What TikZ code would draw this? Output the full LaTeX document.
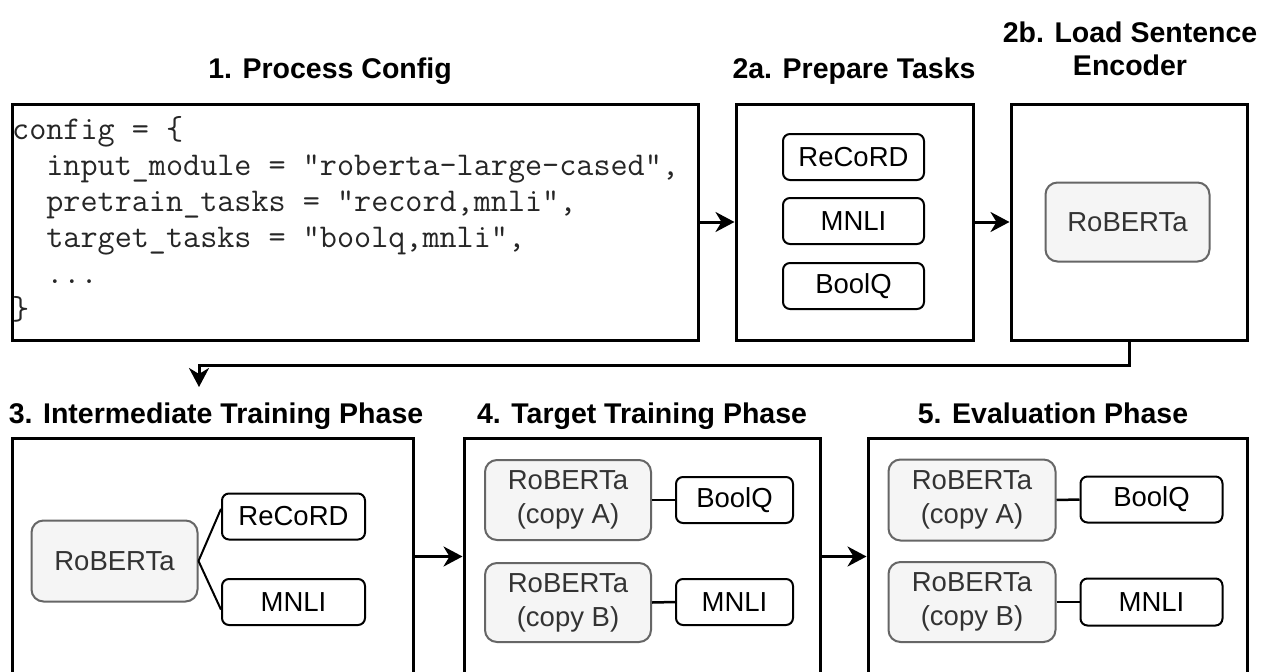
\documentclass[tikz,border=0pt]{standalone}
\usepackage{fontspec}
\setmainfont{Liberation Sans}
\usetikzlibrary{arrows.meta}
\definecolor{rgray}{HTML}{666666}
\definecolor{rfill}{HTML}{F5F5F5}
\definecolor{rtext}{HTML}{333333}
\newcommand\mylbl{\fontsize{27.5}{34}\selectfont}
\newcommand\myttl{\fontsize{28.5}{33}\selectfont\bfseries}
\tikzset{
 outerbox/.style={draw, line width=3pt, inner sep=0pt, anchor=north west},
 taskbox/.style={draw, line width=2pt, rounded corners=7pt, fill=white, inner sep=0pt, font=\mylbl},
 robbox/.style={draw=rgray, fill=rfill, text=rtext, line width=2pt, rounded corners=12pt, inner sep=0pt, align=center, font=\mylbl},
 titletext/.style={font=\myttl, align=center, inner sep=0pt, anchor=base},
 flow/.style={line width=3pt, -{Stealth[length=19pt,width=20pt,inset=6pt]}},
 link/.style={line width=2.5pt}
}
\begin{document}
\begin{tikzpicture}[x=1pt,y=-1pt]
\useasboundingbox (0,0) rectangle (1262,672);
\clip (0,0) rectangle (1262,672);
\fill[white] (0,0) rectangle (1262,672);

% titles
\node[titletext] (t1) at (330,78) {1. Process Config};
\node[titletext] (t2a) at (854,78) {2a. Prepare Tasks};
\node[titletext] (t2b) at (1130,75) {2b. Load Sentence\\Encoder};
\node[titletext] (t3) at (216,423) {3. Intermediate Training Phase};
\node[titletext] (t4) at (642,423) {4. Target Training Phase};
\node[titletext] (t5) at (1053,423) {5. Evaluation Phase};

% outer boxes
\node[outerbox, minimum width=686pt, minimum height=236pt] (cfg) at (10.5,102.5) {};
\node[outerbox, minimum width=237pt, minimum height=236pt] (tasks) at (734.5,102.5) {};
\node[outerbox, minimum width=236pt, minimum height=236pt] (enc) at (1009.5,102.5) {};
\node[outerbox, minimum width=401pt, minimum height=237pt] (p3) at (10.5,436.5) {};
\node[outerbox, minimum width=356pt, minimum height=237pt] (p4) at (462.5,436.5) {};
\node[outerbox, minimum width=379pt, minimum height=237pt] (p5) at (866.5,436.5) {};

% config text
\node[anchor=base west, inner sep=0pt, align=left, text=black!85, font={\ttfamily\fontsize{33.2}{36}\selectfont}] (code) at (12,319)
{config = \{\\
\hphantom{xx}input\_module = "roberta-large-cased",\\
\hphantom{xx}pretrain\_tasks = "record,mnli",\\
\hphantom{xx}target\_tasks = "boolq,mnli",\\
\hphantom{xx}...\\
\}};

% 2a tasks
\node[taskbox, minimum width=141pt, minimum height=46pt] (a1) at (853.5,157) {ReCoRD};
\node[taskbox, minimum width=141pt, minimum height=46pt] (a2) at (853.5,221) {MNLI};
\node[taskbox, minimum width=141pt, minimum height=46pt] (a3) at (853.5,286) {BoolQ};

% 2b encoder
\node[robbox, minimum width=164pt, minimum height=79pt] (r0) at (1127.5,222) {RoBERTa};

% 3
\node[robbox, minimum width=166pt, minimum height=81pt] (r3) at (114.5,561) {RoBERTa};
\node[taskbox, minimum width=143pt, minimum height=46pt] (b1) at (293.5,516.5) {ReCoRD};
\node[taskbox, minimum width=143pt, minimum height=46pt] (b2) at (293.5,602) {MNLI};
\draw[line width=2pt] (r3.east) -- (b1.174);
\draw[line width=2pt] (r3.east) -- (b2.186);

% 4
\node[robbox, minimum width=166pt, minimum height=80pt] (r4a) at (568,500) {RoBERTa\\(copy A)};
\node[robbox, minimum width=166pt, minimum height=79pt] (r4b) at (568,602.5) {RoBERTa\\(copy B)};
\node[taskbox, minimum width=117pt, minimum height=46pt] (c1) at (734.5,500) {BoolQ};
\node[taskbox, minimum width=117pt, minimum height=46pt] (c2) at (734.5,602) {MNLI};
\draw[link] (r4a.east) -- (c1.west);
\draw[link] (r4b.east) -- (c2.west);

% 5
\node[robbox, minimum width=167pt, minimum height=81pt] (r5a) at (972,500) {RoBERTa\\(copy A)};
\node[robbox, minimum width=167pt, minimum height=80pt] (r5b) at (972,602) {RoBERTa\\(copy B)};
\node[taskbox, minimum width=142pt, minimum height=46pt] (d1) at (1151.5,499.5) {BoolQ};
\node[taskbox, minimum width=142pt, minimum height=47pt] (d2) at (1151.5,602) {MNLI};
\draw[link] (r5a.east) -- (d1.west);
\draw[link] (r5b.east) -- (d2.west);

% flow arrows
\coordinate (c3) at (199,387);
\draw[flow] (cfg.east) -- (tasks.west);
\draw[flow] (tasks.east) -- (enc.west);
\draw[flow] (enc.south) -- ++(0,24) -| (c3);
\draw[flow] (p3.east) -- (p4.west);
\draw[flow] (p4.east) -- (p5.west);
\end{tikzpicture}
\end{document}
